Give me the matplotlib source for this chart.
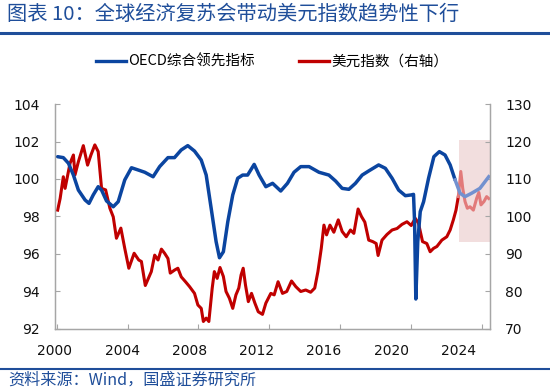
import matplotlib
matplotlib.use("Agg")
import matplotlib.pyplot as plt
from matplotlib.lines import Line2D

plt.rcParams['font.family'] = ['Noto Sans CJK SC', 'DejaVu Sans']

# ---------------- data ----------------
oecd_x = [2000.05, 2000.37, 2000.66, 2000.94, 2001.22, 2001.6, 2001.82, 2002.06, 2002.34, 2002.53,
          2002.81, 2003.19, 2003.47, 2003.84, 2004.22, 2004.6, 2004.97, 2005.44, 2005.81, 2006.28,
          2006.65, 2007.03, 2007.4, 2007.78, 2008.16, 2008.44, 2008.72, 2009.0, 2009.19, 2009.41,
          2009.66, 2009.94, 2010.22, 2010.5, 2010.78, 2011.15, 2011.43, 2011.81, 2012.19, 2012.65,
          2013.03, 2013.4, 2013.78, 2014.25, 2014.81, 2015.37, 2015.75, 2016.12, 2016.5, 2016.87,
          2017.25, 2017.62, 2018.18, 2018.56, 2018.94, 2019.31, 2019.69, 2020.02, 2020.15, 2020.21,
          2020.28, 2020.39, 2020.53, 2020.72, 2021.0, 2021.3, 2021.61, 2021.93, 2022.22, 2022.5,
          2022.78, 2023.06, 2023.43, 2023.9, 2024.19, 2024.4]
oecd_v = [101.19, 101.14, 100.84, 100.21, 99.41, 98.88, 98.70, 99.15, 99.59, 99.41,
          98.83, 98.52, 98.79, 99.95, 100.6, 100.48, 100.36, 100.12, 100.66, 101.14,
          101.14, 101.55, 101.78, 101.49, 101.01, 100.21, 98.44, 96.66, 95.80, 96.12,
          97.72, 99.15, 100.04, 100.21, 100.21, 100.78, 100.21, 99.59, 99.77, 99.36,
          99.77, 100.36, 100.66, 100.66, 100.36, 100.21, 99.89, 99.50, 99.45, 99.77,
          100.21, 100.43, 100.75, 100.57, 100.04, 99.41, 99.11, 99.15, 99.18, 97.72,
          93.6, 96.66, 98.26, 98.79, 100.04, 101.19, 101.46, 101.28, 100.75, 99.95,
          99.24, 99.06, 99.24, 99.5, 99.86, 100.12]

dxy_x = [2000.05, 2000.19, 2000.37, 2000.47, 2000.62, 2000.75, 2000.94, 2001.03, 2001.22, 2001.5,
         2001.74, 2001.93, 2002.15, 2002.34, 2002.53, 2002.76, 2003.0, 2003.19, 2003.37, 2003.62,
         2003.84, 2004.07, 2004.37, 2004.63, 2004.78, 2005.0, 2005.34, 2005.53, 2005.72, 2005.91,
         2006.09, 2006.28, 2006.41, 2006.65, 2006.84, 2007.03, 2007.27, 2007.5, 2007.78, 2007.97,
         2008.16, 2008.28, 2008.44, 2008.59, 2008.78, 2008.9, 2009.06, 2009.22, 2009.41, 2009.56,
         2009.75, 2009.94, 2010.12, 2010.28, 2010.41, 2010.53, 2010.66, 2010.82, 2011.0, 2011.19,
         2011.38, 2011.62, 2011.81, 2012.09, 2012.28, 2012.5, 2012.75, 2012.99, 2013.26, 2013.5,
         2013.78, 2014.06, 2014.34, 2014.57, 2014.75, 2014.94, 2015.09, 2015.24, 2015.43, 2015.65,
         2015.9, 2016.12, 2016.35, 2016.59, 2016.78, 2017.02, 2017.21, 2017.4, 2017.62, 2017.85,
         2018.04, 2018.15, 2018.37, 2018.65, 2018.94, 2019.22, 2019.5, 2019.78, 2020.02, 2020.25,
         2020.43, 2020.66, 2020.9, 2021.09, 2021.28, 2021.47, 2021.75, 2022.03, 2022.22, 2022.4,
         2022.55, 2022.68, 2022.82, 2022.93, 2023.06, 2023.19, 2023.34, 2023.53, 2023.72, 2023.84,
         2023.96, 2024.13, 2024.28, 2024.4]
dxy_v = [101.7, 104.8, 110.6, 107.5, 111.1, 114.2, 116.4, 111.1, 114.6, 118.9,
         113.7, 116.4, 119.1, 117.3, 107.5, 107.1, 102.2, 99.9, 94.2, 96.9,
         91.5, 86.2, 90.2, 88.4, 88.0, 81.6, 85.3, 89.7, 88.4, 91.3,
         90.2, 88.8, 84.9, 85.7, 86.2, 83.9, 82.6, 81.3, 79.5, 76.4,
         75.5, 72.0, 72.9, 72.0, 80.9, 85.3, 83.5, 86.4, 84.0, 80.0,
         78.2, 75.5, 79.1, 80.9, 84.4, 86.2, 81.7, 77.3, 79.5, 76.9,
         74.6, 73.9, 76.9, 79.5, 79.1, 82.6, 79.5, 80.0, 82.8, 81.3,
         80.0, 80.4, 79.8, 80.9, 85.3, 91.5, 97.7, 95.1, 97.7, 95.8,
         99.1, 96.0, 94.6, 96.4, 95.5, 102.0, 100.0, 98.5, 93.7, 93.3,
         92.8, 89.6, 93.7, 95.2, 96.4, 96.8, 97.9, 98.6, 97.6, 99.5,
         98.2, 93.3, 92.8, 90.6, 91.5, 92.0, 93.7, 94.6, 96.4, 99.1,
         101.7, 105.3, 112.0, 107.5, 104.0, 102.2, 102.6, 101.7, 104.9, 106.4,
         103.1, 104.0, 105.3, 104.8]

split_year = 2022.7
x_end = 2024.47
shade_lo, shade_hi = 93.2, 120.4
year_ticks = [2000, 2004, 2008, 2012, 2016, 2020, 2024]
year_label_pos = [1999.9, 2003.7, 2007.48, 2011.3, 2015.07, 2018.9, 2022.67]
left_ticks = [92, 94, 96, 98, 100, 102, 104]
right_ticks = [70, 80, 90, 100, 110, 120, 130]

title = "图表 10：全球经济复苏会带动美元指数趋势性下行"
source = "资料来源：Wind，国盛证券研究所"
name_oecd = "OECD综合领先指标"
name_dxy = "美元指数（右轴）"

BLUE = "#0B45A0"
BLUE_L = "#7391CF"
RED = "#C00000"
RED_L = "#E27A7A"
GREY = "#A6A6A6"
TITLE_BLUE = "#1F4E9A"

# ---------------- figure ----------------
fig = plt.figure(figsize=(5.5, 3.91), dpi=100)
ax = fig.add_axes([0.1, 0.1586, 0.7909, 0.5754])
ax2 = ax.twinx()
ax.set_zorder(ax2.get_zorder() + 1)
ax.patch.set_visible(False)


def split(xs, ys, s):
    a = [(x, y) for x, y in zip(xs, ys) if x <= s]
    b = [(x, y) for x, y in zip(xs, ys) if x >= s]
    if a and b and a[-1][0] < b[0][0]:
        b = [a[-1]] + b
    return list(zip(*a)), list(zip(*b))

(oa_x, oa_y), (ob_x, ob_y) = split(oecd_x, oecd_v, split_year)
(da_x, da_y), (db_x, db_y) = split(dxy_x, dxy_v, split_year)

ax2.fill_between([split_year, x_end], [shade_lo, shade_lo], [shade_hi, shade_hi],
                 color="#F2DEDE", linewidth=0, zorder=0)
ax2.plot(da_x, da_y, color=RED, lw=2.2, solid_joinstyle="round", zorder=2)
ax2.plot(db_x, db_y, color=RED_L, lw=2.2, solid_joinstyle="round", zorder=2)
ax.plot(oa_x, oa_y, color=BLUE, lw=2.5, solid_joinstyle="round", solid_capstyle="round")
ax.plot(ob_x, ob_y, color=BLUE_L, lw=2.5, solid_joinstyle="round")

ax.set_xlim(2000, x_end)
ax.set_ylim(92, 104)
ax2.set_ylim(70, 130)

ax.set_yticks(left_ticks)
ax2.set_yticks(right_ticks)
ax.set_xticks(year_ticks)
ax.set_xticklabels([])
ax.set_xticks(year_label_pos, minor=True)
ax.set_xticklabels([str(y) for y in year_ticks], minor=True)

for a in (ax, ax2):
    a.spines["top"].set_visible(False)
    for side in ("left", "right", "bottom"):
        a.spines[side].set_color(GREY)
        a.spines[side].set_linewidth(0.9)

ax.tick_params(axis="y", direction="in", length=3.5, color=GREY, pad=11,
               labelsize=10, labelcolor="#111111")
ax2.tick_params(axis="y", direction="in", length=3.5, color=GREY, pad=11,
                labelsize=10, labelcolor="#111111")
ax.tick_params(axis="x", which="major", direction="in", length=3.5, color=GREY)
ax.tick_params(axis="x", which="minor", length=0, pad=11, labelsize=10, labelcolor="#111111")
for lab in ax.get_yticklabels() + ax2.get_yticklabels() + ax.get_xticklabels(minor=True):
    lab.set_fontfamily("DejaVu Sans")

handles = [Line2D([], [], color=BLUE, lw=2.4), Line2D([], [], color=RED, lw=2.4)]
fig.legend(handles, [name_oecd, name_dxy], loc="center", bbox_to_anchor=(0.495, 0.8414),
           ncol=2, frameon=False, fontsize=10.5, handlelength=2.05, handletextpad=0.15,
           columnspacing=3.0)

fig.text(0.012, 0.963, title, color=TITLE_BLUE, fontsize=14.6, va="center", ha="left")
fig.add_artist(Line2D([0, 1], [1 - 32.5 / 391, 1 - 32.5 / 391], transform=fig.transFigure,
                      color="#1F4E9A", lw=2.2))
fig.add_artist(Line2D([0, 1], [1 - 369 / 391, 1 - 369 / 391], transform=fig.transFigure,
                      color="#1F4E9A", lw=1.5))
fig.text(0.015, 1 - 380.5 / 391, source, color=TITLE_BLUE, fontsize=11.6, va="center", ha="left")

fig.savefig("out.png", dpi=100)
